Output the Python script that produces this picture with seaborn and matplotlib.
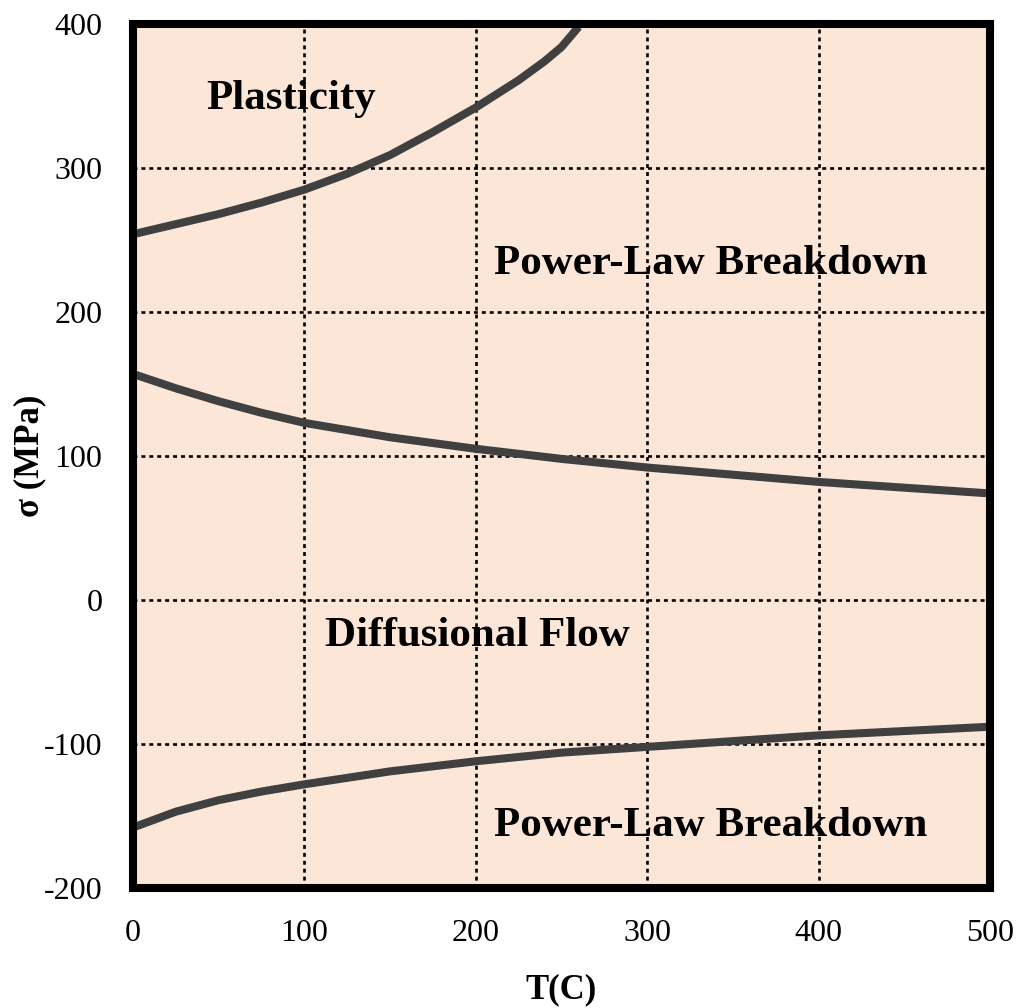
import matplotlib
matplotlib.use("Agg")
import matplotlib.pyplot as plt
import seaborn as sns
import pandas as pd

# ---- data ----
plast_T = [0, 25, 50, 75, 100, 125, 150, 175, 200, 225, 240, 250, 260]
plast_s = [254, 261, 268, 276, 285, 296, 309, 325, 342, 361, 374, 384, 398]

upper_T = [0, 25, 50, 75, 100, 150, 200, 250, 300, 350, 400, 450, 500]
upper_s = [157, 147, 138, 130, 123, 113, 105, 98, 92, 87, 82, 78, 74]

lower_T = [0, 25, 50, 75, 100, 150, 200, 250, 300, 350, 400, 450, 500]
lower_s = [-158, -147, -139, -133, -128, -119, -112, -106, -102, -98, -94, -91, -88]

x_ticks = [0, 100, 200, 300, 400, 500]
y_ticks = [-200, -100, 0, 100, 200, 300, 400]

region_labels = ["Plasticity", "Power-Law Breakdown", "Diffusional Flow", "Power-Law Breakdown"]
region_x = [92, 337, 201, 337]
region_y = [348, 233, -25, -157]

sns.set_theme(style="white")
plt.rcParams['font.family'] = ['Liberation Serif', 'DejaVu Serif']

fig = plt.figure(figsize=(10.29, 10.08), dpi=100)
ax = fig.add_axes([133/1029, 1-888/1008, (990-133)/1029, (888-24)/1008])
ax.set_facecolor('#FCE6D8')

for T, s in [(plast_T, plast_s), (upper_T, upper_s), (lower_T, lower_s)]:
    df = pd.DataFrame({"T": T, "s": s})
    sns.lineplot(data=df, x="T", y="s", ax=ax, color='#404040', linewidth=5.8,
                 sort=False, zorder=3, solid_capstyle='butt', solid_joinstyle='round')

ax.set_xlim(0, 500)
ax.set_ylim(-200, 400)
ax.set_xticks(x_ticks)
ax.set_yticks(y_ticks)
ax.set_xticklabels([str(v) for v in x_ticks], fontsize=23)
ax.set_yticklabels([str(v) for v in y_ticks], fontsize=23)
ax.tick_params(axis='both', length=0, pad=22, colors='black')

for v in x_ticks[1:-1]:
    ax.axvline(v, color='black', linewidth=1.9, linestyle=(0, (1.5, 1.5)), zorder=2)
for v in y_ticks[1:-1]:
    ax.axhline(v, color='black', linewidth=1.9, linestyle=(0, (1.5, 1.5)), zorder=2)

for sp in ax.spines.values():
    sp.set_visible(True)
    sp.set_color('black')
    sp.set_linewidth(5.8)
    sp.set_zorder(5)

ax.set_xlabel("T(C)", fontsize=25, fontweight='bold', color='black')
ax.set_ylabel("σ (MPa)", fontsize=25, fontweight='bold', color='black')
ax.xaxis.set_label_coords(0.5, -(990 - 888) / 864, transform=ax.transAxes)
ax.yaxis.set_label_coords((30 - 133) / 857, 0.5, transform=ax.transAxes)
ax.xaxis.label.set_va('center')
ax.yaxis.label.set_va('center')

for lab, x, y in zip(region_labels, region_x, region_y):
    ax.text(x, y, lab, fontsize=31, fontweight='bold', ha='center', va='center',
            color='black', zorder=4)

fig.savefig("out.png", dpi=100, facecolor='white')
